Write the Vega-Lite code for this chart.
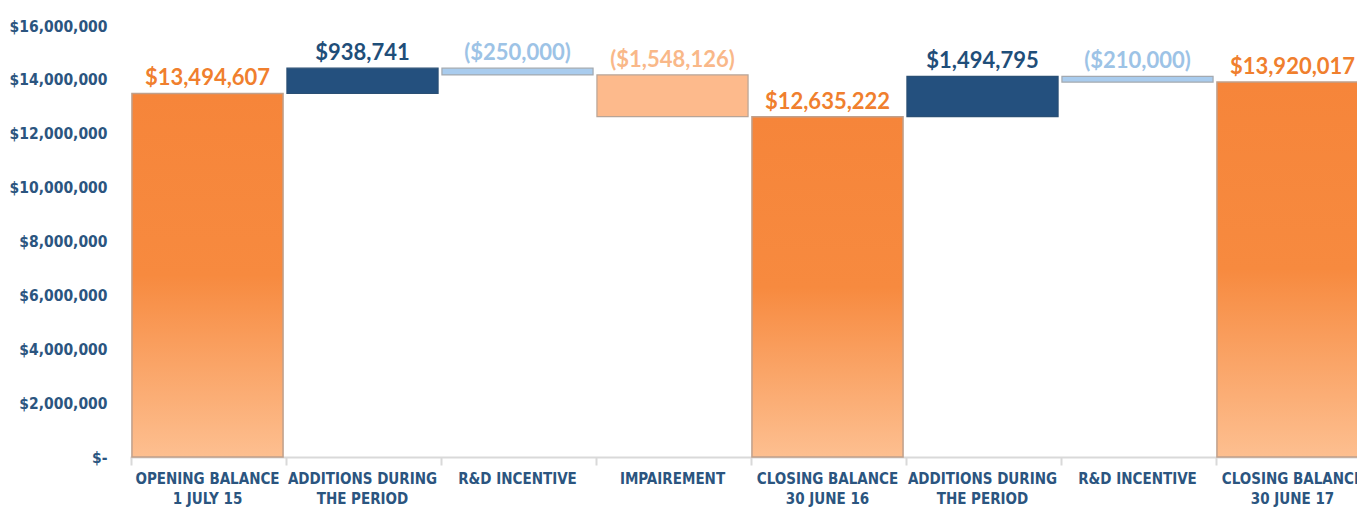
{
  "$schema": "https://vega.github.io/schema/vega-lite/v6.json",
  "width": 1240,
  "height": 431,
  "autosize": {"type": "none"},
  "padding": {"left": 130, "top": 26, "right": 0, "bottom": 50},
  "background": "white",
  "config": {"view": {"stroke": null}},
  "data": {
    "values": [
      {"step": "OPENING BALANCE|1 JULY 15", "low": 0, "high": 13494607, "type": "total", "label": "$13,494,607"},
      {"step": "ADDITIONS DURING|THE PERIOD", "low": 13494607, "high": 14433348, "type": "add", "label": "$938,741"},
      {"step": "R&D INCENTIVE", "low": 14183348, "high": 14433348, "type": "rd", "label": "($250,000)"},
      {"step": "IMPAIREMENT", "low": 12635222, "high": 14183348, "type": "imp", "label": "($1,548,126)"},
      {"step": "CLOSING BALANCE|30 JUNE 16", "low": 0, "high": 12635222, "type": "total", "label": "$12,635,222"},
      {"step": "ADDITIONS DURING|THE PERIOD ", "low": 12635222, "high": 14130017, "type": "add", "label": "$1,494,795"},
      {"step": "R&D INCENTIVE ", "low": 13920017, "high": 14130017, "type": "rd", "label": "($210,000)"},
      {"step": "CLOSING BALANCE|30 JUNE 17", "low": 0, "high": 13920017, "type": "total", "label": "$13,920,017"}
    ]
  },
  "encoding": {
    "x": {
      "field": "step",
      "type": "nominal",
      "sort": null,
      "scale": {
        "domain": ["OPENING BALANCE|1 JULY 15", "ADDITIONS DURING|THE PERIOD", "R&D INCENTIVE", "IMPAIREMENT", "CLOSING BALANCE|30 JUNE 16", "ADDITIONS DURING|THE PERIOD ", "R&D INCENTIVE ", "CLOSING BALANCE|30 JUNE 17"],
        "paddingInner": 0.025,
        "paddingOuter": 0.0125
      },
      "axis": {
        "title": null,
        "labelAngle": 0,
        "bandPosition": 0,
        "labelExpr": "split(datum.label, '|')",
        "labelFont": "DejaVu Sans Condensed, sans-serif",
        "labelFontWeight": "bold",
        "labelFontSize": 15,
        "labelColor": "#2B557F",
        "labelLineHeight": 20,
        "labelPadding": 6,
        "labelBaseline": "top",
        "domainColor": "#D9D9D9",
        "domainWidth": 2,
        "tickColor": "#D9D9D9",
        "tickWidth": 2,
        "tickSize": 8,
        "grid": false
      }
    }
  },
  "layer": [
    {
      "transform": [{"filter": "datum.type == 'total'"}],
      "mark": {
        "type": "bar",
        "stroke": "#BFA08C",
        "strokeWidth": 1.5,
        "fill": {
          "x1": 0, "y1": 0, "x2": 0, "y2": 1,
          "gradient": "linear",
          "stops": [
            {"offset": 0, "color": "#F6853A"},
            {"offset": 0.5, "color": "#F78A3F"},
            {"offset": 1, "color": "#FDBF90"}
          ]
        }
      },
      "encoding": {
        "y": {
          "field": "low",
          "type": "quantitative",
          "scale": {"domain": [0, 16000000], "nice": false},
          "axis": {
            "title": null,
            "grid": false,
            "domain": false,
            "ticks": false,
            "tickCount": 8,
            "labelPadding": 23,
            "labelExpr": "datum.value == 0 ? '$-' : '$' + format(datum.value, ',')",
            "labelFont": "DejaVu Sans Condensed, sans-serif",
            "labelFontWeight": "bold",
            "labelFontSize": 15.5,
            "labelColor": "#2B557F"
          }
        },
        "y2": {"field": "high"}
      }
    },
    {
      "transform": [{"filter": "datum.type != 'total'"}],
      "mark": {"type": "bar", "strokeWidth": 1.2},
      "encoding": {
        "y": {"field": "low", "type": "quantitative"},
        "y2": {"field": "high"},
        "fill": {
          "field": "type",
          "type": "nominal",
          "scale": {"domain": ["add", "rd", "imp"], "range": ["#24507E", "#A9CCEE", "#FDBA8C"]},
          "legend": null
        },
        "stroke": {
          "field": "type",
          "type": "nominal",
          "scale": {"domain": ["add", "rd", "imp"], "range": ["#2A4F74", "#A3A9B0", "#B8A496"]},
          "legend": null
        }
      }
    },
    {
      "mark": {
        "type": "text",
        "baseline": "alphabetic",
        "dy": -8,
        "font": "Lato, Open Sans, sans-serif",
        "fontWeight": "bold",
        "fontSize": 22
      },
      "encoding": {
        "y": {"field": "high", "type": "quantitative"},
        "text": {"field": "label"},
        "color": {
          "field": "type",
          "type": "nominal",
          "scale": {"domain": ["total", "add", "rd", "imp"], "range": ["#F07F2E", "#1F4E79", "#9DC3E6", "#F9B889"]},
          "legend": null
        }
      }
    }
  ]
}
